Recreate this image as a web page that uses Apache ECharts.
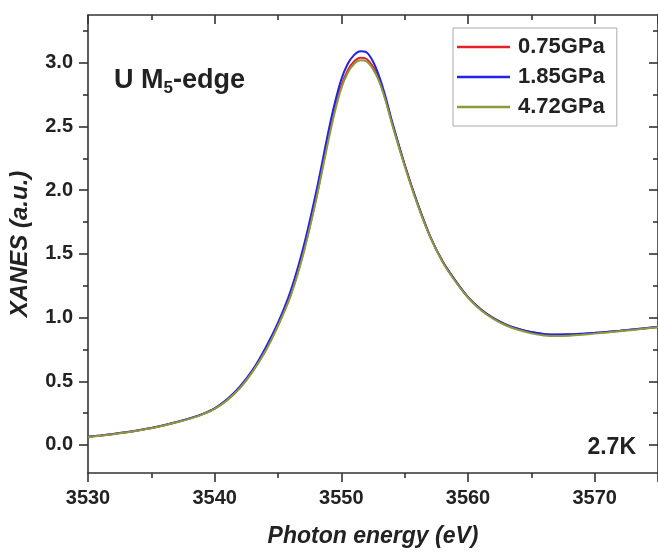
<!DOCTYPE html>
<html>
<head>
<meta charset="utf-8">
<script src="https://cdn.jsdelivr.net/npm/echarts@6/dist/echarts.min.js"></script>
<style>html,body{margin:0;padding:0;background:#fff}#c{width:658px;height:553px}</style>
</head>
<body>
<div id="c"></div>
<script>
var energy = [3530,3531,3532,3533,3534,3535,3536,3537,3538,3539,3540,3541,3542,3543,3544,3545,3546,3547,3548,3549,3549.5,3550,3550.5,3551,3551.5,3552,3552.5,3553,3553.5,3554,3555,3556,3557,3558,3559,3560,3561,3562,3563,3564,3565,3566,3567,3568,3569,3570,3571,3572,3573,3574,3575];
var p075 = [0.065,0.075,0.087,0.1,0.115,0.133,0.155,0.18,0.207,0.24,0.285,0.355,0.45,0.58,0.74,0.94,1.18,1.51,1.93,2.42,2.64,2.82,2.94,3.01,3.04,3.03,2.97,2.86,2.71,2.53,2.2,1.9,1.64,1.44,1.29,1.16,1.065,0.995,0.945,0.91,0.885,0.87,0.865,0.867,0.872,0.879,0.887,0.896,0.906,0.916,0.926];
var p185 = [0.065,0.075,0.087,0.1,0.115,0.133,0.155,0.18,0.208,0.242,0.288,0.36,0.46,0.59,0.76,0.96,1.21,1.55,1.98,2.47,2.69,2.87,2.99,3.06,3.09,3.08,3.01,2.89,2.73,2.54,2.2,1.9,1.64,1.44,1.29,1.16,1.065,0.995,0.945,0.91,0.886,0.872,0.868,0.869,0.874,0.88,0.888,0.897,0.907,0.917,0.927];
var p472 = [0.062,0.073,0.085,0.098,0.113,0.131,0.153,0.178,0.205,0.238,0.283,0.352,0.447,0.576,0.735,0.935,1.17,1.5,1.92,2.4,2.62,2.8,2.92,2.99,3.02,3.01,2.95,2.85,2.7,2.52,2.19,1.89,1.635,1.435,1.285,1.157,1.06,0.99,0.938,0.902,0.876,0.86,0.855,0.858,0.865,0.874,0.883,0.893,0.903,0.914,0.924];
var seriesNames = ['0.75GPa','1.85GPa','4.72GPa'];
var seriesColors = ['#e32226','#2323e6','#8d9a3c'];
var yTickLabels = [0,0.5,1,1.5,2,2.5,3];
var yMinorTicks = [0.25,0.75,1.25,1.75,2.25,2.75,3.25];

function pairs(vals){ return energy.map(function(e,i){ return [e, vals[i]]; }); }
var FONT = 'Liberation Sans, Arial, sans-serif';
var axisLineStyle = {color:'#333', width:1.6};
var chart = echarts.init(document.getElementById('c'), null, {renderer:'canvas'});
var ymin = -0.22, ymax = 3.375;
function yAx(pos, inside, values, len, showLabel, showLine, extra){
  var o = {
    type:'value', position:pos, min:ymin, max:ymax,
    splitLine:{show:false},
    axisLine:{show:showLine, onZero:false, lineStyle:axisLineStyle},
    axisTick:{show:true, inside:inside, length:len, customValues:values, lineStyle:{color:'#333', width:1.6}},
    axisLabel:{show:showLabel, customValues:values, margin:15, fontFamily:FONT, fontWeight:'bold', fontSize:20, color:'#222',
      formatter:function(v){ return v.toFixed(1); }}
  };
  if (extra) for (var k in extra) o[k] = extra[k];
  return o;
}
var option = {
  animation:false,
  backgroundColor:'#fff',
  grid:{left:87, top:15, right:-3, bottom:76, containLabel:false},
  legend:{
    data:seriesNames, orient:'vertical', left:453, top:28,
    icon:'path://M0,0 L53,0 L53,2.4 L0,2.4 Z',
    padding:[8,12,8,4], itemGap:8, itemWidth:53, itemHeight:2.4,
    borderColor:'#aaa', borderWidth:1, backgroundColor:'#fff',
    textStyle:{fontFamily:FONT, fontWeight:'bold', fontSize:22, color:'#222', padding:[0,0,0,3]}
  },
  xAxis:[
    {type:'value', position:'bottom', min:3530, max:3575, interval:10,
     splitLine:{show:false},
     axisLine:{onZero:false, lineStyle:axisLineStyle},
     axisTick:{inside:false, length:9, lineStyle:{color:'#333', width:1.6}},
     minorTick:{show:true, splitNumber:2, length:5, lineStyle:{color:'#333', width:1.6}},
     axisLabel:{margin:15, showMaxLabel:false, fontFamily:FONT, fontWeight:'bold', fontSize:20, color:'#222',
       formatter:function(v){ return String(v); }},
     name:'Photon energy (eV)', nameLocation:'middle', nameGap:52,
     nameTextStyle:{fontFamily:FONT, fontWeight:'bold', fontStyle:'italic', fontSize:23, color:'#222'}},
    {type:'value', position:'top', min:3530, max:3575, interval:10,
     splitLine:{show:false},
     axisLine:{onZero:false, lineStyle:axisLineStyle},
     axisTick:{inside:true, length:9, lineStyle:{color:'#333', width:1.6}},
     minorTick:{show:true, splitNumber:2, length:5, lineStyle:{color:'#333', width:1.6}},
     axisLabel:{show:false}}
  ],
  yAxis:[
    yAx('left', false, yTickLabels, 9, true, true, {name:'XANES (a.u.)', nameLocation:'middle', nameGap:56,
      nameTextStyle:{fontFamily:FONT, fontWeight:'bold', fontStyle:'italic', fontSize:24, color:'#222'}}),
    yAx('left', false, yMinorTicks, 5, false, false),
    yAx('right', true, yTickLabels, 9, false, true),
    yAx('right', true, yMinorTicks, 5, false, false)
  ],
  graphic:[
    {type:'text', left:114, top:67, style:{
      text:'{a|U M}{s|5}{a|-edge}',
      rich:{a:{fontFamily:FONT, fontWeight:'bold', fontSize:27, fill:'#222'},
            s:{fontFamily:FONT, fontWeight:'bold', fontSize:17, fill:'#222', padding:[15,0,0,0]}}
    }},
    {type:'text', right:22, top:436, style:{text:'2.7K', fontFamily:FONT, fontWeight:'bold', fontSize:23, fill:'#222'}}
  ],
  series:[
    {name:seriesNames[0], type:'line', data:pairs(p075), showSymbol:false, symbol:'none', smooth:0.3, color:seriesColors[0], lineStyle:{width:2, color:seriesColors[0]}, z:2},
    {name:seriesNames[1], type:'line', data:pairs(p185), showSymbol:false, symbol:'none', smooth:0.3, color:seriesColors[1], lineStyle:{width:2, color:seriesColors[1]}, z:3},
    {name:seriesNames[2], type:'line', data:pairs(p472), showSymbol:false, symbol:'none', smooth:0.3, color:seriesColors[2], lineStyle:{width:2, color:seriesColors[2]}, z:4}
  ]
};
chart.setOption(option);
</script>
</body>
</html>
